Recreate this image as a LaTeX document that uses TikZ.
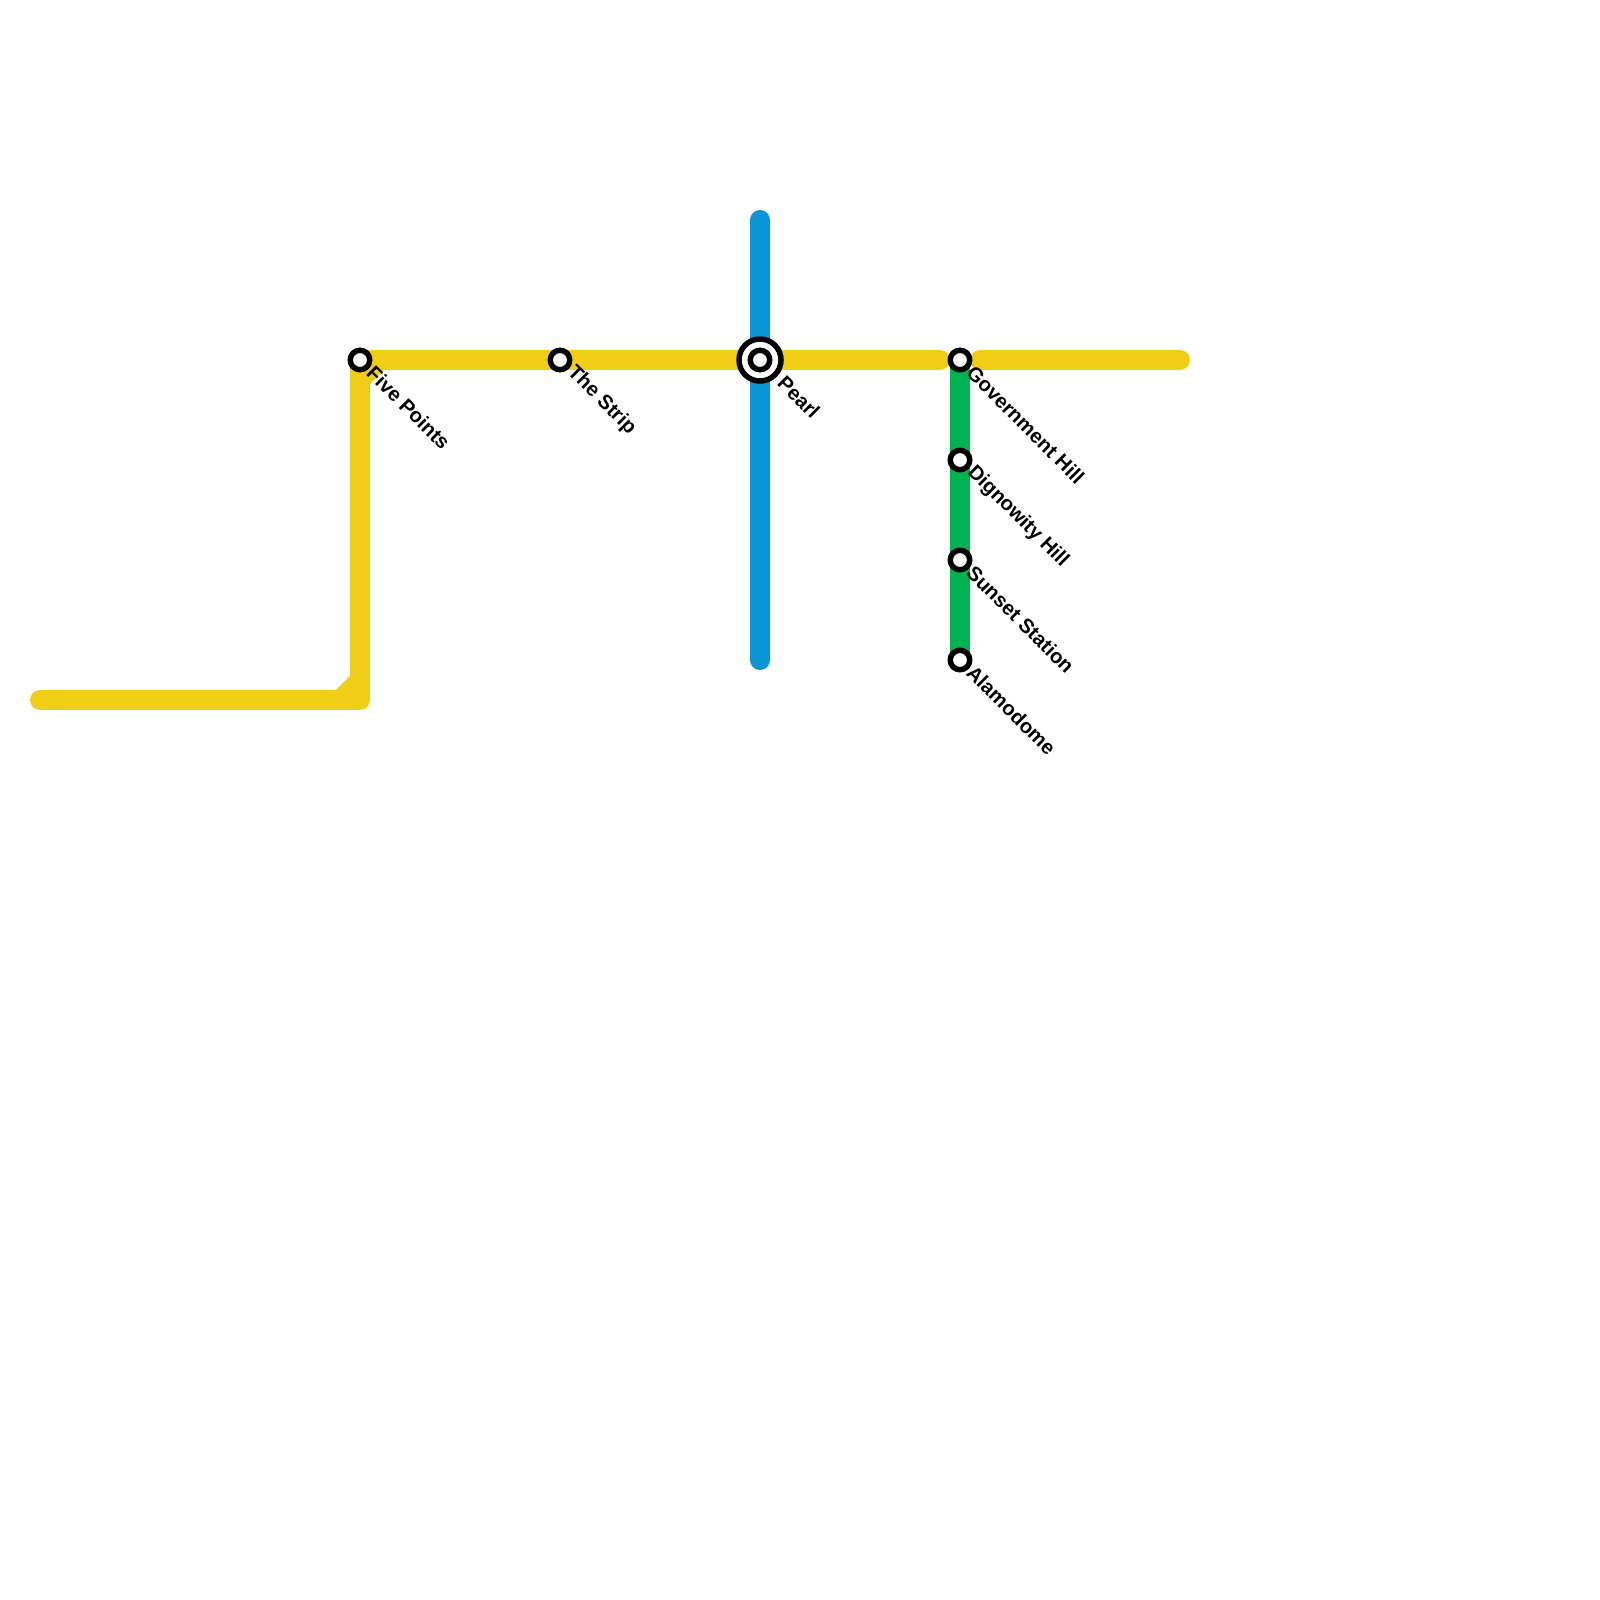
\documentclass[tikz,border=0pt]{standalone}
\usepackage{fontspec}
\setmainfont{Liberation Sans}
\usetikzlibrary{backgrounds}

\definecolor{lineyellow}{HTML}{F0CE15}
\definecolor{lineblue}{HTML}{0896D7}
\definecolor{linegreen}{HTML}{00B251}

\tikzset{
    station/.style={circle,draw=black,fill=white,line width=1.55pt,minimum size=0.195cm,inner sep=0pt},
    interchange/.style={circle,draw=black,fill=white,line width=1.55pt,minimum size=0.42cm,inner sep=0pt},
    stationlabel/.style={anchor=west,rotate=-45,inner sep=0pt,font=\fontsize{5.75pt}{7pt}\selectfont\bfseries},
    metroline/.style={line width=0.2cm,line cap=round,line join=round}
}

\begin{document}
\begin{tikzpicture}[x=0.01cm,y=-0.01cm]
    \useasboundingbox (0,0) rectangle (1600,1600);

    \coordinate (west) at (40,700);
    \coordinate (bend) at (360,700);
    \coordinate (midyellow) at (940,360);
    \coordinate (eaststart) at (980,360);
    \coordinate (east) at (1180,360);
    \coordinate (bluetop) at (760,220);
    \coordinate (bluebottom) at (760,660);
    \coordinate (outerbevela) at (340,700);
    \coordinate (outerbevelb) at (360,680);
    \coordinate (innerbevela) at (360,380);
    \coordinate (innerbevelb) at (380,360);

    \node[station] (fivepoints) at (360,360) {};
    \node[station] (thestrip) at (560,360) {};
    \node[interchange] (pearlouter) at (760,360) {};
    \node[station] (pearl) at (760,360) {};
    \node[station] (government) at (960,360) {};
    \node[station] (dignowity) at (960,460) {};
    \node[station] (sunset) at (960,560) {};
    \node[station] (alamodome) at (960,660) {};

    \node[stationlabel] (fivepointsname) at (370,369) {Five Points};
    \node[stationlabel] (thestripname) at (570,369) {The Strip};
    \node[stationlabel] (pearlname) at (781,379) {Pearl};
    \node[stationlabel] (governmentname) at (970,369) {Government Hill};
    \node[stationlabel] (dignowityname) at (970,469) {Dignowity Hill};
    \node[stationlabel] (sunsetname) at (970,569) {Sunset Station};
    \node[stationlabel] (alamodomename) at (970,669) {Alamodome};

    \begin{scope}[on background layer]
        \draw[metroline,lineblue] (bluetop) -- (bluebottom);
        \draw[metroline,linegreen] (government.center) -- (alamodome.center);
        \draw[metroline,lineyellow] (west) -- (bend) -- (fivepoints.center) -- (midyellow);
        \draw[metroline,lineyellow] (eaststart) -- (east);
        \draw[line width=0.2cm,lineyellow] (outerbevela) -- (outerbevelb);
        \draw[line width=0.2cm,lineyellow] (innerbevela) -- (innerbevelb);
    \end{scope}
\end{tikzpicture}
\end{document}
